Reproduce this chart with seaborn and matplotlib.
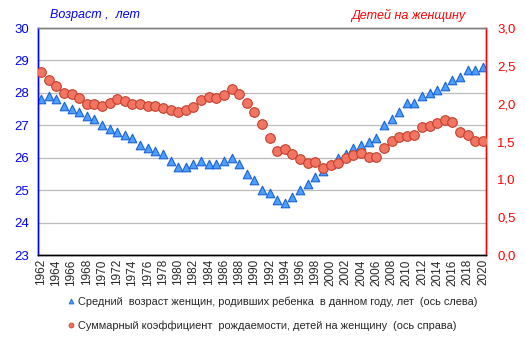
import numpy as np
import pandas as pd
import seaborn as sns
import matplotlib.pyplot as plt
from matplotlib.lines import Line2D
from matplotlib.ticker import FuncFormatter

# === Data ===
years = list(range(1962, 2021))
age = [27.8, 27.9, 27.8, 27.6, 27.5, 27.4, 27.3, 27.2, 27.0, 26.9,
       26.8, 26.7, 26.6, 26.4, 26.3, 26.2, 26.1, 25.9, 25.7, 25.7,
       25.8, 25.9, 25.8, 25.8, 25.9, 26.0, 25.8, 25.5, 25.3, 25.0,
       24.9, 24.7, 24.6, 24.8, 25.0, 25.2, 25.4, 25.6, 25.8, 26.0,
       26.1, 26.3, 26.4, 26.5, 26.6, 27.0, 27.2, 27.4, 27.7, 27.7,
       27.9, 28.0, 28.1, 28.2, 28.4, 28.5, 28.7, 28.7, 28.8]
tfr = [2.42, 2.31, 2.24, 2.14, 2.13, 2.08, 2.00, 1.99, 1.97, 2.01,
       2.06, 2.03, 2.00, 2.00, 1.97, 1.97, 1.94, 1.91, 1.89, 1.91,
       1.96, 2.05, 2.09, 2.07, 2.12, 2.19, 2.13, 2.01, 1.89, 1.73,
       1.55, 1.38, 1.40, 1.34, 1.27, 1.22, 1.23, 1.15, 1.19, 1.22,
       1.28, 1.32, 1.35, 1.30, 1.30, 1.42, 1.51, 1.56, 1.57, 1.59,
       1.69, 1.71, 1.75, 1.78, 1.76, 1.63, 1.59, 1.51, 1.51]
age_label = "Средний  возраст женщин, родивших ребенка  в данном году, лет  (ось слева)"
tfr_label = "Суммарный коэффициент  рождаемости, детей на женщину  (ось справа)"

df = pd.DataFrame({"year": years, "age": age, "tfr": tfr})

sns.set_style("white")
plt.rcParams['font.family'] = ['Liberation Sans', 'DejaVu Sans']

blue = "#0000FF"
red = "#FF0000"
tri_face, tri_edge = "#4D9FFF", "#1A62D6"
dot_face, dot_edge = "#F27463", "#C4402C"

fig = plt.figure(figsize=(5.25, 3.55), dpi=100)
ax = fig.add_axes([38 / 525, 1 - 255 / 355, 448 / 525, 227 / 355])
ax2 = ax.twinx()

# === Plot ===
sns.scatterplot(data=df, x="year", y="age", ax=ax, marker="^", s=38,
                color=tri_face, edgecolor=tri_edge, linewidth=0.8, zorder=3)
sns.scatterplot(data=df, x="year", y="tfr", ax=ax2, marker="o", s=48,
                color=dot_face, edgecolor=dot_edge, linewidth=0.8, zorder=3)

ax.set_xlim(1962 - 0.4, 2020 + 0.4)
ax.set_ylim(23, 30)
ax2.set_ylim(0, 3)
ax.set_yticks(range(23, 31))
ax2.set_yticks(np.arange(0, 3.01, 0.5))
ax2.yaxis.set_major_formatter(FuncFormatter(lambda v, p: f"{v:.1f}".replace(".", ",")))
ax.set_xticks(years[::2])
ax.set_xticklabels([str(y) for y in years[::2]], rotation=90, fontsize=8.5)

ax.grid(axis="y", color="#BBBBBB", linewidth=0.9)
ax.set_axisbelow(True)
ax.set_xlabel("")
ax.set_ylabel("")
ax2.set_ylabel("")

ax.tick_params(axis="y", colors=blue, labelsize=9.5, length=0, pad=6.5)
ax2.tick_params(axis="y", colors=red, labelsize=9.5, length=0, pad=8)
ax.tick_params(axis="x", length=0, pad=3, labelsize=8.5)

for a in (ax, ax2):
    a.spines["left"].set_color(blue)
    a.spines["right"].set_color(red)
    a.spines["top"].set_color("#808080")
    a.spines["bottom"].set_color("black")
    for s in a.spines.values():
        s.set_linewidth(1.0)

# === Axis captions ===
fig.text(50 / 525, 1 - 15 / 355, "Возраст ,  лет", color=blue, fontsize=9,
         style="italic", va="center", ha="left")
fig.text(465 / 525, 1 - 15 / 355, "Детей на женщину", color=red, fontsize=9,
         style="italic", va="center", ha="right")

# === Legend ===
handles = [
    Line2D([], [], linestyle="none", marker="^", markersize=3.5,
           markerfacecolor=tri_face, markeredgecolor=tri_edge, markeredgewidth=0.6),
    Line2D([], [], linestyle="none", marker="o", markersize=3.5,
           markerfacecolor=dot_face, markeredgecolor=dot_edge, markeredgewidth=0.6),
]
fig.legend(handles, [age_label, tfr_label], loc="upper left",
           bbox_to_anchor=(62 / 525, 1 - 291 / 355), frameon=False,
           fontsize=7.9, handlelength=0.6, handletextpad=0.35, labelspacing=1.25,
           borderpad=0)

fig.savefig("out.png", dpi=100)
